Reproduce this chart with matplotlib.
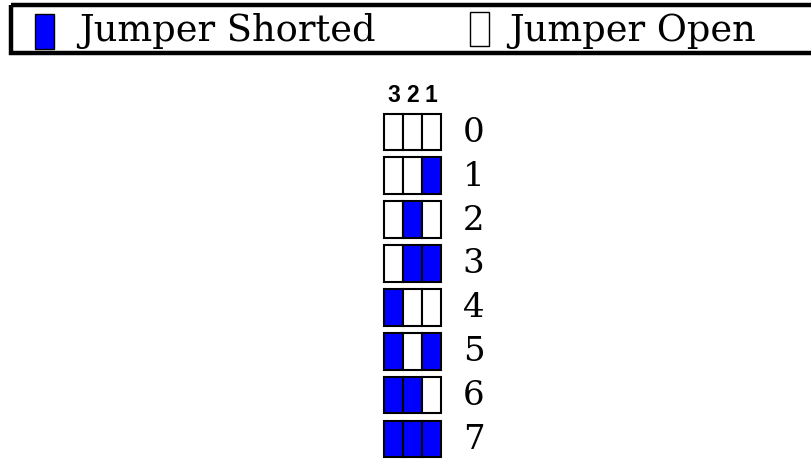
import matplotlib
matplotlib.use("Agg")
import matplotlib.pyplot as plt
from matplotlib.patches import Rectangle

# ---- data ----
values = [0, 1, 2, 3, 4, 5, 6, 7]
bit_labels = ["3", "2", "1"]          # column headers (bit weights 4,2,1)
bit_weights = [4, 2, 1]
legend_labels = ["Jumper Shorted", "Jumper Open"]
shorted_color = "#0000FF"
open_color = "#FFFFFF"

W, H = 812, 459
fig = plt.figure(figsize=(W / 100, H / 100), dpi=100)
ax = fig.add_axes([0, 0, 1, 1])
ax.set_xlim(0, W)
ax.set_ylim(H, 0)
ax.axis("off")

serif = ["DejaVu Serif"]

# legend frame (right side runs off the canvas)
ax.add_patch(Rectangle((11, 4.5), 900, 48, fill=False, edgecolor="black", linewidth=3.2))
# legend swatches
ax.add_patch(Rectangle((35.5, 13.5), 19, 35, facecolor=shorted_color, edgecolor="black", linewidth=1.0))
ax.text(79, 41, legend_labels[0], fontsize=26.5, family=serif, ha="left", va="baseline")
ax.add_patch(Rectangle((470, 11.5), 19, 34.5, facecolor=open_color, edgecolor="black", linewidth=1.0))
ax.text(509, 41, legend_labels[1], fontsize=26.5, family=serif, ha="left", va="baseline")

# grid geometry
x0 = 384.5
cell_w = 18.7
top0 = 113.5
pitch = 43.9
box_h = 36.5

# column headers
for j, lab in enumerate(bit_labels):
    ax.text(x0 + cell_w * (j + 0.5), 101.5, lab, fontsize=16.5, family=["Liberation Sans"],
            fontweight="bold", ha="center", va="baseline")

for i, v in enumerate(values):
    top = top0 + pitch * i
    for j, w in enumerate(bit_weights):
        on = (v & w) != 0
        ax.add_patch(Rectangle((x0 + cell_w * j, top), cell_w, box_h,
                               facecolor=shorted_color if on else open_color,
                               edgecolor="black", linewidth=1.5))
    ax.text(473.5, top + box_h / 2 + 1, str(v), fontsize=24.5, family=serif,
            ha="center", va="center")

fig.savefig("out.png", dpi=100)
